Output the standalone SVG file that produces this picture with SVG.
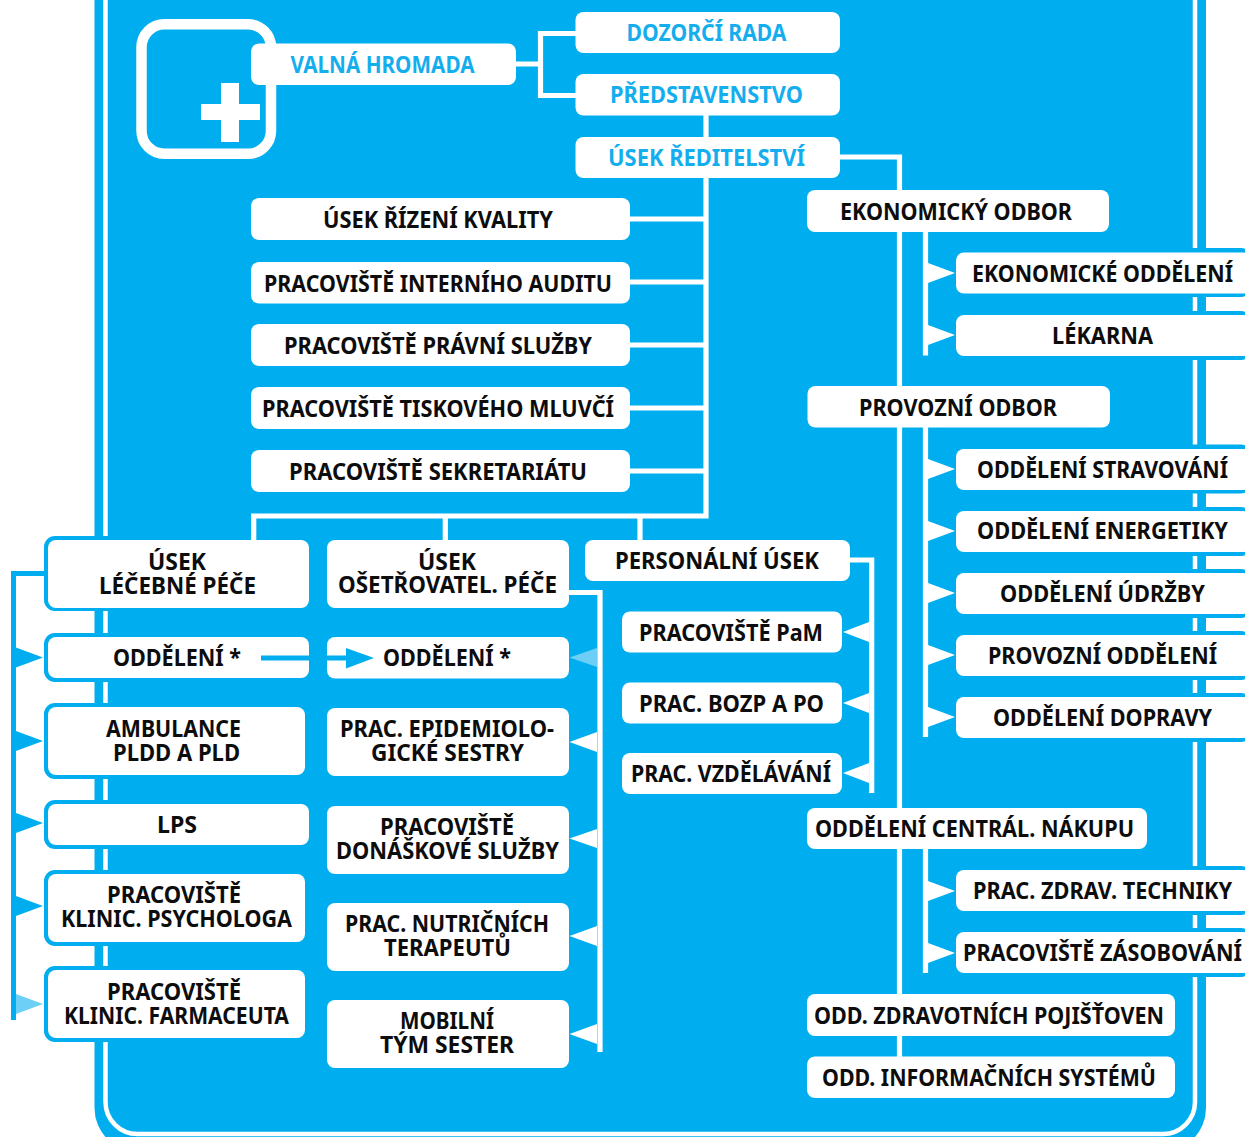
<svg xmlns="http://www.w3.org/2000/svg" width="1245" height="1137" viewBox="0 0 1245 1137">
<style>
.c{fill:#00AEEF}
.w{fill:#fff}
.l{fill:#6DCFF6}
.b{fill:#fff}
text{font-family:"Noto Sans","Liberation Sans",sans-serif;font-weight:700;font-size:22.5px;fill:#0d0d0d}
text.t{fill:#14AEEE}
.ln{fill:none;stroke:#fff;stroke-width:5.200}
.lc{fill:none;stroke:#00AEEF;stroke-width:5}
</style>
<rect width="1245" height="1137" fill="#fff"/>
<g id="frame">
<rect x="94.500" y="-60" width="1111.500" height="1212" rx="44" class="c"/>
<rect x="105.500" y="-60" width="1089.500" height="1194" rx="32" fill="none" stroke="#fff" stroke-width="4.500"/>
<rect x="44" y="536" width="269" height="75" rx="11" class="c"/>
<rect x="44" y="633" width="269" height="49" rx="11" class="c"/>
<rect x="44" y="703" width="265" height="76" rx="11" class="c"/>
<rect x="44" y="800" width="269" height="49" rx="11" class="c"/>
<rect x="44" y="870" width="265" height="76" rx="11" class="c"/>
<rect x="44" y="966" width="265" height="76" rx="11" class="c"/>
<rect x="952" y="248" width="300" height="49" rx="11" class="c"/>
<rect x="952" y="311" width="300" height="49" rx="11" class="c"/>
<rect x="952" y="444.500" width="300" height="49" rx="11" class="c"/>
<rect x="952" y="507" width="300" height="49" rx="11" class="c"/>
<rect x="952" y="569" width="300" height="49" rx="11" class="c"/>
<rect x="952" y="631" width="300" height="49" rx="11" class="c"/>
<rect x="952" y="693" width="300" height="49" rx="11" class="c"/>
<rect x="952" y="866" width="300" height="49" rx="11" class="c"/>
<rect x="952" y="928" width="300" height="49" rx="11" class="c"/>
<rect x="141.500" y="24.300" width="129.500" height="129.500" rx="23" fill="none" stroke="#fff" stroke-width="10.500"/>
<path class="w" d="M221 83h18v21h21v16h-21v22h-18v-22h-20v-16h20z"/>
</g>
<g id="connectors">
<path class="ln" d="M516 64H540.500M576 33.500H540.500V95.500H576"/>
<path class="ln" d="M706 115V516H253.700V540M445.300 516V541M640 516V540"/>
<path class="ln" d="M630 219H705M630 282H705M630 345H705M630 408H705M630 471H705"/>
<path class="ln" d="M840 157H899.500V1060"/>
<path class="ln" d="M925.500 232V355.500M925.500 427V737M925.500 849V973"/>
<path class="ln" d="M850 560H871.700V793"/>
<path class="ln" d="M569 592.500H600V1052"/>
<path class="lc" d="M44 573.500H13.500V1020"/>
<path class="w" d="M928 263L955 273L928 283zM928 325L955 335L928 345zM928 459L955 469L928 479zM928 521L955 531L928 541zM928 583L955 593L928 603zM928 645L955 655L928 665zM928 707L955 717L928 727zM928 881L955 891L928 901zM928 943L955 953L928 963z"/>
<path class="w" d="M869 622L843 632L869 642zM869 693L843 703L869 713zM869 763L843 773L869 783z"/>
<path class="w" d="M597 732L569.500 742L597 752zM597 829L569.500 838.500L597 848zM597 926L569.500 936L597 946zM597 1024L569.500 1034L597 1044z"/>
<path class="l" d="M597 648L569.500 657.500L597 667z"/>
<path class="c" d="M16 647.500L43 657.500L16 667.500zM16 731L43 741L16 751zM16 813L43 823L16 833zM16 896L43 906L16 916z"/>
<path class="l" d="M16 994L43 1004L16 1014z"/>
</g>
<g id="n-valna"><rect class="b" x="251" y="43.500" width="265" height="41.500" rx="8"/><text class="t" x="290.500" y="73" textLength="184" lengthAdjust="spacingAndGlyphs">VALNÁ HROMADA</text></g>
<g id="n-dozorci"><rect class="b" x="575.500" y="12" width="264.500" height="41" rx="8"/><text class="t" x="626.500" y="41" textLength="160" lengthAdjust="spacingAndGlyphs">DOZORČÍ RADA</text></g>
<g id="n-predstavenstvo"><rect class="b" x="575.500" y="74" width="264.500" height="41.500" rx="8"/><text class="t" x="610" y="103" textLength="193" lengthAdjust="spacingAndGlyphs">PŘEDSTAVENSTVO</text></g>
<g id="n-reditelstvi"><rect class="b" x="575.500" y="137" width="264.500" height="41" rx="8"/><text class="t" x="608" y="166" textLength="197" lengthAdjust="spacingAndGlyphs">ÚSEK ŘEDITELSTVÍ</text></g>
<g id="n-kvalita"><rect class="b" x="251" y="198" width="379" height="42" rx="8"/><text x="323" y="228" textLength="230" lengthAdjust="spacingAndGlyphs">ÚSEK ŘÍZENÍ KVALITY</text></g>
<g id="n-audit"><rect class="b" x="251" y="262" width="379" height="41.500" rx="8"/><text x="264" y="292" textLength="348" lengthAdjust="spacingAndGlyphs">PRACOVIŠTĚ INTERNÍHO AUDITU</text></g>
<g id="n-pravni"><rect class="b" x="251" y="324" width="379" height="42" rx="8"/><text x="284" y="354" textLength="308" lengthAdjust="spacingAndGlyphs">PRACOVIŠTĚ PRÁVNÍ SLUŽBY</text></g>
<g id="n-tisk"><rect class="b" x="251" y="387" width="379" height="42" rx="8"/><text x="262" y="417" textLength="352" lengthAdjust="spacingAndGlyphs">PRACOVIŠTĚ TISKOVÉHO MLUVČÍ</text></g>
<g id="n-sekret"><rect class="b" x="251" y="450" width="379" height="42" rx="8"/><text x="289" y="480" textLength="298" lengthAdjust="spacingAndGlyphs">PRACOVIŠTĚ SEKRETARIÁTU</text></g>
<g id="n-ekonom"><rect class="b" x="807" y="190" width="302" height="42" rx="8"/><text x="840" y="220" textLength="232" lengthAdjust="spacingAndGlyphs">EKONOMICKÝ ODBOR</text></g>
<g id="n-ekodd"><rect class="b" x="956" y="252.500" width="295" height="41" rx="8"/><text x="972" y="282" textLength="261" lengthAdjust="spacingAndGlyphs">EKONOMICKÉ ODDĚLENÍ</text></g>
<g id="n-lek"><rect class="b" x="956" y="315" width="295" height="41" rx="8"/><text x="1052" y="344" textLength="101" lengthAdjust="spacingAndGlyphs">LÉKARNA</text></g>
<g id="n-provoz"><rect class="b" x="807.500" y="386" width="302.500" height="41.500" rx="8"/><text x="859" y="416" textLength="198" lengthAdjust="spacingAndGlyphs">PROVOZNÍ ODBOR</text></g>
<g id="n-strav"><rect class="b" x="956" y="449" width="295" height="41" rx="8"/><text x="977" y="478" textLength="251" lengthAdjust="spacingAndGlyphs">ODDĚLENÍ STRAVOVÁNÍ</text></g>
<g id="n-energ"><rect class="b" x="956" y="511" width="295" height="41" rx="8"/><text x="977" y="539" textLength="251" lengthAdjust="spacingAndGlyphs">ODDĚLENÍ ENERGETIKY</text></g>
<g id="n-udrz"><rect class="b" x="956" y="573" width="295" height="41" rx="8"/><text x="1000" y="602" textLength="205" lengthAdjust="spacingAndGlyphs">ODDĚLENÍ ÚDRŽBY</text></g>
<g id="n-provodd"><rect class="b" x="956" y="635" width="295" height="41" rx="8"/><text x="988" y="664" textLength="229" lengthAdjust="spacingAndGlyphs">PROVOZNÍ ODDĚLENÍ</text></g>
<g id="n-doprava"><rect class="b" x="956" y="697" width="295" height="41" rx="8"/><text x="993" y="726" textLength="219" lengthAdjust="spacingAndGlyphs">ODDĚLENÍ DOPRAVY</text></g>
<g id="n-person"><rect class="b" x="585" y="540" width="265" height="41" rx="8"/><text x="615" y="569" textLength="204" lengthAdjust="spacingAndGlyphs">PERSONÁLNÍ ÚSEK</text></g>
<g id="n-pam"><rect class="b" x="622" y="611.500" width="220" height="41" rx="8"/><text x="639" y="641" textLength="184" lengthAdjust="spacingAndGlyphs">PRACOVIŠTĚ PaM</text></g>
<g id="n-bozp"><rect class="b" x="622" y="682.500" width="220" height="41" rx="8"/><text x="639" y="712" textLength="185" lengthAdjust="spacingAndGlyphs">PRAC. BOZP A PO</text></g>
<g id="n-vzdel"><rect class="b" x="622" y="753" width="220" height="41" rx="8"/><text x="631" y="782" textLength="200" lengthAdjust="spacingAndGlyphs">PRAC. VZDĚLÁVÁNÍ</text></g>
<g id="n-central"><rect class="b" x="807" y="808" width="340" height="41" rx="8"/><text x="815" y="837" textLength="319" lengthAdjust="spacingAndGlyphs">ODDĚLENÍ CENTRÁL. NÁKUPU</text></g>
<g id="n-techn"><rect class="b" x="956" y="870" width="295" height="41" rx="8"/><text x="973" y="899" textLength="259" lengthAdjust="spacingAndGlyphs">PRAC. ZDRAV. TECHNIKY</text></g>
<g id="n-zasob"><rect class="b" x="956" y="932" width="295" height="41" rx="8"/><text x="963" y="961" textLength="279" lengthAdjust="spacingAndGlyphs">PRACOVIŠTĚ ZÁSOBOVÁNÍ</text></g>
<g id="n-pojist"><rect class="b" x="807" y="994" width="368" height="42" rx="8"/><text x="814" y="1024" textLength="350" lengthAdjust="spacingAndGlyphs">ODD. ZDRAVOTNÍCH POJIŠŤOVEN</text></g>
<g id="n-info"><rect class="b" x="807" y="1056.500" width="368" height="41.500" rx="8"/><text x="822" y="1086" textLength="334" lengthAdjust="spacingAndGlyphs">ODD. INFORMAČNÍCH SYSTÉMŮ</text></g>
<g id="n-lecebna"><rect class="b" x="48" y="540" width="261" height="68" rx="8"/><text x="148" y="570" textLength="58" lengthAdjust="spacingAndGlyphs">ÚSEK</text><text x="99" y="594" textLength="157" lengthAdjust="spacingAndGlyphs">LÉČEBNÉ PÉČE</text></g>
<g id="n-odd1"><rect class="b" x="48" y="637" width="261" height="41" rx="8"/><text x="113" y="666" textLength="128" lengthAdjust="spacingAndGlyphs">ODDĚLENÍ *</text></g>
<g id="n-amb"><rect class="b" x="48" y="707" width="257" height="68" rx="8"/><text x="106" y="737" textLength="135" lengthAdjust="spacingAndGlyphs">AMBULANCE</text><text x="113" y="761" textLength="127" lengthAdjust="spacingAndGlyphs">PLDD A PLD</text></g>
<g id="n-lps"><rect class="b" x="48" y="804" width="261" height="41" rx="8"/><text x="157" y="833" textLength="40" lengthAdjust="spacingAndGlyphs">LPS</text></g>
<g id="n-psych"><rect class="b" x="48" y="874" width="257" height="68" rx="8"/><text x="107" y="903" textLength="134" lengthAdjust="spacingAndGlyphs">PRACOVIŠTĚ</text><text x="61" y="927" textLength="231" lengthAdjust="spacingAndGlyphs">KLINIC. PSYCHOLOGA</text></g>
<g id="n-farm"><rect class="b" x="48" y="970" width="257" height="68" rx="8"/><text x="107" y="1000" textLength="134" lengthAdjust="spacingAndGlyphs">PRACOVIŠTĚ</text><text x="64" y="1024" textLength="225" lengthAdjust="spacingAndGlyphs">KLINIC. FARMACEUTA</text></g>
<g id="n-oset"><rect class="b" x="327" y="540" width="242" height="68" rx="8"/><text x="418" y="570" textLength="58" lengthAdjust="spacingAndGlyphs">ÚSEK</text><text x="338" y="593" textLength="219" lengthAdjust="spacingAndGlyphs">OŠETŘOVATEL. PÉČE</text></g>
<g id="n-odd2"><rect class="b" x="327" y="637" width="242" height="41.500" rx="8"/><text x="383" y="666" textLength="128" lengthAdjust="spacingAndGlyphs">ODDĚLENÍ *</text></g>
<g id="n-epid"><rect class="b" x="327" y="708" width="242" height="68" rx="8"/><text x="340" y="737" textLength="214" lengthAdjust="spacingAndGlyphs">PRAC. EPIDEMIOLO-</text><text x="371" y="761" textLength="153" lengthAdjust="spacingAndGlyphs">GICKÉ SESTRY</text></g>
<g id="n-donas"><rect class="b" x="327" y="806" width="242" height="68" rx="8"/><text x="380" y="835" textLength="134" lengthAdjust="spacingAndGlyphs">PRACOVIŠTĚ</text><text x="336" y="859" textLength="223" lengthAdjust="spacingAndGlyphs">DONÁŠKOVÉ SLUŽBY</text></g>
<g id="n-nutr"><rect class="b" x="327" y="903" width="242" height="68" rx="8"/><text x="345" y="932" textLength="204" lengthAdjust="spacingAndGlyphs">PRAC. NUTRIČNÍCH</text><text x="384" y="956" textLength="127" lengthAdjust="spacingAndGlyphs">TERAPEUTŮ</text></g>
<g id="n-mobil"><rect class="b" x="327" y="1000" width="242" height="68" rx="8"/><text x="400" y="1029" textLength="94" lengthAdjust="spacingAndGlyphs">MOBILNÍ</text><text x="380" y="1053" textLength="134" lengthAdjust="spacingAndGlyphs">TÝM SESTER</text></g>
<g id="link-odd">
<rect class="c" x="261" y="655.500" width="86" height="5"/>
<path class="c" d="M346 648L374 658L346 668.500z"/>
</g>
</svg>
